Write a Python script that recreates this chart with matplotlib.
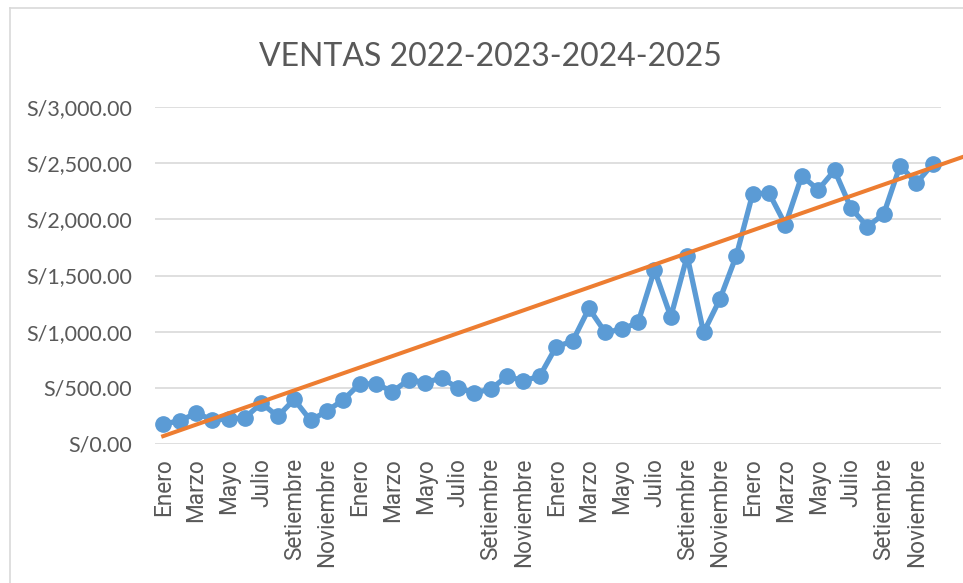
import matplotlib
matplotlib.use("Agg")
import matplotlib.pyplot as plt
from matplotlib.lines import Line2D
from matplotlib.ticker import FuncFormatter
import numpy as np

# ventas mensuales 2022-2025
meses = ["Enero", "Febrero", "Marzo", "Abril", "Mayo", "Junio", "Julio",
         "Agosto", "Setiembre", "Octubre", "Noviembre", "Diciembre"]
ventas_2022 = [180, 204, 275, 216, 222, 234, 364, 246, 397, 210, 293, 394]
ventas_2023 = [534, 537, 466, 573, 546, 588, 498, 457, 487, 605, 561, 605]
ventas_2024 = [867, 915, 1207, 993, 1022, 1082, 1549, 1132, 1674, 993, 1290, 1677]
ventas_2025 = [2228, 2234, 1951, 2388, 2263, 2436, 2100, 1936, 2046, 2478, 2323, 2493]

# linea de tendencia (inicio y fin, con pronostico)
tendencia_x = [0, 50]
tendencia_y = [70, 2615]

ventas = ventas_2022 + ventas_2023 + ventas_2024 + ventas_2025
etiquetas = meses * 4
x = np.arange(len(ventas))

gris = "#595959"
fig = plt.figure(figsize=(9.63, 5.83), dpi=100)
ax = fig.add_axes([155 / 963, 1 - 444 / 583, (941 - 155) / 963, (444 - 107) / 583])

ax.plot(x, ventas, color="#5B9BD5", linewidth=3.8, marker="o", markersize=11,
        zorder=3)
ax.plot(tendencia_x, tendencia_y, color="#ED7D31", linewidth=2.9, zorder=4,
        clip_on=False)

ax.set_xlim(-0.5, len(ventas) - 0.5)
ax.set_ylim(0, 3000)
ax.set_yticks(np.arange(0, 3001, 500))
ax.yaxis.set_major_formatter(FuncFormatter(lambda v, p: "S/{:,.2f}".format(v)))
ax.set_xticks(x[::2])
ax.set_xticklabels(etiquetas[::2], rotation=90, fontsize=16.3, color=gris,
                   family="Roboto")
for lab in ax.get_yticklabels():
    lab.set_fontfamily("Lato")
    lab.set_fontsize(15.5)
    lab.set_color(gris)
ax.tick_params(axis="y", length=0, pad=16.5)
ax.tick_params(axis="x", length=0, pad=10)

ax.grid(axis="y", color="#D9D9D9", linewidth=1.2)
ax.set_axisbelow(True)
for s in ax.spines.values():
    s.set_visible(False)

fig.text(490 / 963, 1 - 57 / 583, "VENTAS 2022-2023-2024-2025", ha="center",
         va="center", fontsize=23, color=gris, family="Lato")

# borde del grafico
fig.add_artist(Line2D([10 / 963, 10 / 963], [0, 1 - 8 / 583], color="#D9D9D9",
                      linewidth=1.2, transform=fig.transFigure))
fig.add_artist(Line2D([10 / 963, 1], [1 - 8 / 583, 1 - 8 / 583], color="#D9D9D9",
                      linewidth=1.2, transform=fig.transFigure))

fig.savefig("out.png", dpi=100)
